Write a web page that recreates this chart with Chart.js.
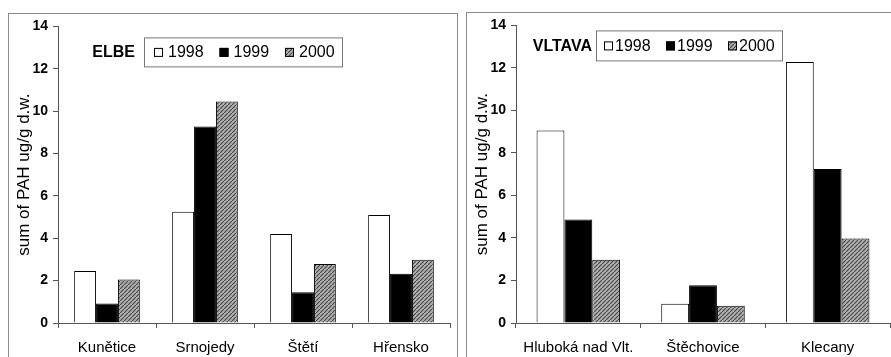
<!DOCTYPE html>
<html>
<head>
<meta charset="utf-8">
<script src="https://cdn.jsdelivr.net/npm/chart.js@4/dist/chart.umd.min.js"></script>
<style>
  body { margin: 0; background: #fff; width: 891px; height: 357px; overflow: hidden; position: relative; }
  .frame { position: absolute; border-top: 1px solid #8a8a8a; border-left: 1px solid #8a8a8a; }
  #frameL { left: 8px; top: 13px; width: 448px; height: 344px; border-right: 1px solid #8a8a8a; }
  #frameR { left: 466px; top: 12px; width: 425px; height: 345px; }
  canvas { position: absolute; }
  #elbe { left: 8px; top: 13px; }
  #vltava { left: 466px; top: 12px; }
</style>
</head>
<body>
<div class="frame" id="frameL"></div>
<div class="frame" id="frameR"></div>
<canvas id="elbe" width="449" height="344"></canvas>
<canvas id="vltava" width="425" height="345"></canvas>
<script>
// ---------------- DATA ----------------
const years = ["1998", "1999", "2000"];
const yTicks = [0, 2, 4, 6, 8, 10, 12, 14];

const elbeSites = ["Kunětice", "Srnojedy", "Štětí", "Hřensko"];
const elbe1998 = [2.45, 5.25, 4.2, 5.1];
const elbe1999 = [0.92, 9.27, 1.45, 2.32];
const elbe2000 = [2.05, 10.45, 2.78, 2.98];

const vltavaSites = ["Hluboká nad Vlt.", "Štěchovice", "Klecany"];
const vltava1998 = [9.05, 0.9, 12.28];
const vltava1999 = [4.87, 1.77, 7.25];
const vltava2000 = [2.97, 0.81, 3.98];

const FONT = "'Liberation Sans', Arial, sans-serif";

// grey hatched fill used for 2000
function hatch() {
    const c = document.createElement("canvas");
    c.width = 4; c.height = 4;
    const g = c.getContext("2d");
    g.fillStyle = "#b0b0b0";
    g.fillRect(0, 0, 4, 4);
    g.strokeStyle = "#4a4a4a";
    g.lineWidth = 1.2;
    g.beginPath();
    g.moveTo(-1, 5); g.lineTo(5, -1);
    g.stroke();
    return g.createPattern(c, "repeat");
}
const fills = ["#ffffff", "#000000", hatch()];

// legend in a box, with river name in front of it
const boxLegend = {
    id: "boxLegend",
    afterDraw(chart, args, o) {
        const ctx = chart.ctx;
        const a = chart.chartArea;
        const x0 = a.left + o.x, y0 = a.top + o.y;
        const cy = y0 + o.h / 2;
        ctx.save();
        ctx.textBaseline = "middle";
        ctx.fillStyle = "#000";
        ctx.font = "bold 16px " + FONT;
        ctx.textAlign = "right";
        ctx.fillText(o.label, x0 - o.gap, cy + 1);
        ctx.strokeStyle = "#777";
        ctx.lineWidth = 1;
        ctx.strokeRect(x0 + 0.5, y0 + 0.5, o.w, o.h);
        ctx.font = "16px " + FONT;
        ctx.textAlign = "left";
        chart.data.datasets.forEach((ds, i) => {
            const sx = x0 + o.first + i * o.step;
            ctx.fillStyle = ds.backgroundColor;
            ctx.fillRect(sx, cy - 4, 9, 9);
            ctx.strokeStyle = "#000";
            ctx.strokeRect(sx + 0.5, cy - 3.5, 8, 8);
            ctx.fillStyle = "#000";
            ctx.fillText(ds.label, sx + o.textGap, cy + 1);
        });
        ctx.restore();
    }
};

function makeChart(id, labels, series, legend, pad) {
    return new Chart(document.getElementById(id), {
        type: "bar",
        data: {
            labels: labels,
            datasets: series.map((d, i) => ({
                label: years[i],
                data: d,
                backgroundColor: fills[i],
                borderColor: "#000",
                borderWidth: 1,
                categoryPercentage: 0.67,
                barPercentage: 1.0
            }))
        },
        options: {
            responsive: false,
            animation: false,
            events: [],
            layout: { padding: pad },
            plugins: {
                legend: { display: false },
                tooltip: { enabled: false },
                boxLegend: legend
            },
            scales: {
                x: {
                    grid: { display: true, drawOnChartArea: false, tickLength: 5, color: "#555", offset: true },
                    border: { color: "#555" },
                    ticks: { color: "#000", font: { family: FONT, size: 15 }, padding: 11, maxRotation: 0 },
                    afterFit: s => { s.height = 34; }
                },
                y: {
                    min: 0,
                    max: 14,
                    afterBuildTicks: s => { s.ticks = yTicks.map(v => ({ value: v })); },
                    grid: { display: true, drawOnChartArea: false, tickLength: 5, color: "#555" },
                    border: { color: "#555" },
                    ticks: { color: "#000", font: { family: FONT, size: 14, weight: "bold" }, padding: 5 },
                    title: {
                        display: true,
                        text: "sum of PAH ug/g d.w.",
                        color: "#000",
                        font: { family: FONT, size: 17 },
                        padding: { top: 6, bottom: 0 }
                    },
                    afterFit: s => { s.width = 50; }
                }
            }
        },
        plugins: [boxLegend]
    });
}

makeChart("elbe", elbeSites, [elbe1998, elbe1999, elbe2000],
    { label: "ELBE", x: 86, y: 11, w: 198, h: 29, gap: 9, first: 10, step: 65.5, textGap: 14 },
    { top: 13, right: 7, left: 0, bottom: 0 });

makeChart("vltava", vltavaSites, [vltava1998, vltava1999, vltava2000],
    { label: "VLTAVA", x: 80, y: 5, w: 186, h: 30, gap: 4, first: 8, step: 62, textGap: 11 },
    { top: 12, right: 1, left: 0, bottom: 0 });
</script>
</body>
</html>
